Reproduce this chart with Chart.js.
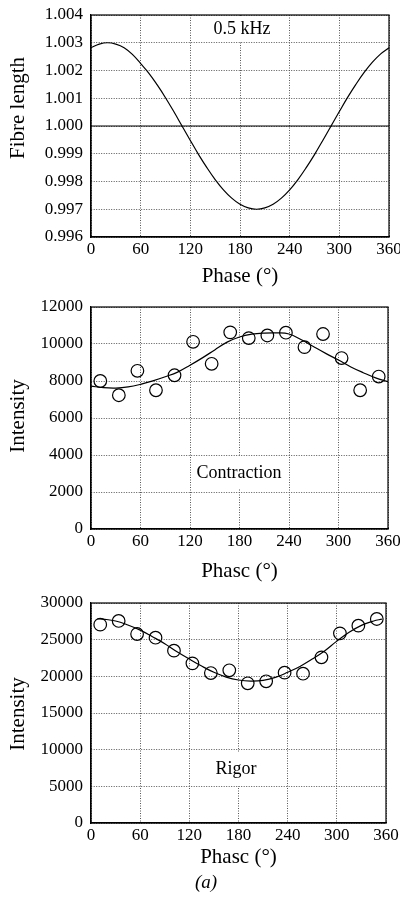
<!DOCTYPE html>
<html><head><meta charset="utf-8">
<script src="https://cdn.jsdelivr.net/npm/chart.js@4.4.1/dist/chart.umd.min.js"></script>
<style>
html,body{margin:0;padding:0;background:#fff;width:400px;height:909px;overflow:hidden}
.p{position:absolute;left:0;width:400px}
canvas{display:block}
#cap{position:absolute;left:0;top:871px;width:412px;text-align:center;font:italic 19px "Liberation Serif";color:#000}
</style></head><body>
<div class="p" style="top:0"><canvas id="c1" width="400" height="290"></canvas></div>
<div class="p" style="top:290px"><canvas id="c2" width="400" height="300"></canvas></div>
<div class="p" style="top:590px"><canvas id="c3" width="400" height="290"></canvas></div>
<div id="cap">(<span>a</span>)</div>
<script>
// ---------- data ----------
const phaseTicks = [0, 60, 120, 180, 240, 300, 360];
const lengthTicks = [0.996, 0.997, 0.998, 0.999, 1.000, 1.001, 1.002, 1.003, 1.004];
const contractionTicks = [0, 2000, 4000, 6000, 8000, 10000, 12000];
const rigorTicks = [0, 5000, 10000, 15000, 20000, 25000, 30000];

const fibrePhase = [0,10,20,30,40,50,60,70,80,90,100,110,120,130,140,150,160,170,180,190,200,210,220,230,240,250,260,270,280,290,300,310,320,330,340,350,360];
const fibreLength = [1.00282,1.00295,1.00300,1.00295,1.00282,1.00258,1.00225,1.00190,1.00148,1.00102,1.00052,1.00000,0.99948,0.99897,0.99850,0.99807,0.99770,0.99740,0.99718,0.99705,0.99700,0.99705,0.99718,0.99740,0.99770,0.99807,0.99850,0.99897,0.99948,1.00000,1.00052,1.00103,1.00150,1.00193,1.00230,1.00260,1.00282];
const referenceLength = [1.000, 1.000];
const referencePhase = [0, 360];

const dataPhase = [11.25,33.75,56.25,78.75,101.25,123.75,146.25,168.75,191.25,213.75,236.25,258.75,281.25,303.75,326.25,348.75];
const contractionData = [8000,7230,8550,7500,8310,10120,8930,10630,10320,10460,10610,9830,10540,9240,7500,8240];
const rigorData = [27050,27550,25770,25270,23500,21770,20450,20820,19050,19320,20500,20360,22590,25860,26910,27820];

const contractionFitPhase = [0,15,30,45,60,75,90,105,120,135,150,165,180,195,210,225,240,255,270,285,300,315,330,345,360];
const contractionFit = [7720,7640,7620,7680,7820,8010,8230,8480,8850,9250,9680,10100,10380,10530,10590,10600,10540,10230,9850,9480,9130,8760,8450,8170,7960];

const rigorFitPhase = [8,15,30,45,60,75,90,105,120,135,150,165,180,195,210,225,240,255,270,285,300,315,330,345,355];
const rigorFit = [27850,27800,27550,27000,26300,25400,24450,23350,22350,21400,20550,19900,19500,19350,19450,19850,20550,21350,22350,23450,24800,26000,26950,27550,27800];

// ---------- helpers ----------
const F = '"Liberation Serif", "Times New Roman", serif';
const pts = (xs, ys) => xs.map((x, i) => ({x, y: ys[i]}));

const framePlugin = {
  id: 'frame',
  beforeDatasetsDraw(chart, args, opts) {
    const ctx = chart.ctx, a = chart.chartArea;
    ctx.save();
    (opts.boxes || []).forEach(b => {
      ctx.font = b.font;
      ctx.fillStyle = '#fff';
      ctx.fillRect(a.left + b.cx - b.w / 2, a.top + b.cy - b.h / 2, b.w, b.h);
      ctx.fillStyle = '#000';
      ctx.textAlign = 'center';
      ctx.textBaseline = 'middle';
      ctx.fillText(b.text, a.left + b.cx, a.top + b.cy);
    });
    ctx.strokeStyle = '#000';
    ctx.lineWidth = 1.2;
    ctx.strokeRect(a.left, a.top, a.right - a.left, a.bottom - a.top);
    ctx.restore();
  },
  afterDraw(chart, args, opts) {
    const ctx = chart.ctx;
    (opts.titles || []).forEach(t => {
      ctx.save();
      ctx.font = t.font;
      ctx.fillStyle = '#000';
      ctx.textAlign = 'center';
      ctx.textBaseline = 'middle';
      ctx.translate(t.x, t.y);
      if (t.rot) ctx.rotate(t.rot);
      ctx.fillText(t.text, 0, 0);
      ctx.restore();
    });
  }
};

function xAxis(h, label, pb) {
  return {
    type: 'linear', min: 0, max: 360,
    afterBuildTicks: s => { s.ticks = phaseTicks.map(v => ({value: v})); },
    afterFit: s => { s.height = h; s.paddingLeft = 0; s.paddingRight = 0; },
    ticks: {color: '#000', font: {family: F, size: 17}, padding: 2, maxRotation: 0, minRotation: 0, autoSkip: false},
    grid: {color: '#555', lineWidth: 1, drawTicks: false},
    border: {display: true, color: '#000', width: 1.2, dash: [1, 1.5]},
    title: {display: true, text: label, color: '#000', font: {family: F, size: 21}, padding: {top: 0, bottom: pb}}
  };
}
function yAxis(min, max, tickArr, fmt) {
  return {
    type: 'linear', min, max,
    afterBuildTicks: s => { s.ticks = tickArr.map(v => ({value: v})); },
    afterFit: s => { s.width = 91; s.paddingTop = 0; s.paddingBottom = 0; },
    ticks: {color: '#000', font: {family: F, size: 17}, padding: 8, callback: fmt},
    grid: {color: '#555', lineWidth: 1, drawTicks: false},
    border: {display: true, color: '#000', width: 1.2, dash: [1, 1.5]},
    title: {display: false}
  };
}
const lineDs = (data) => ({type: 'line', data, borderColor: '#000', borderWidth: 1.2, pointRadius: 0, tension: 0.4, fill: false, showLine: true});
const ptDs = (data) => ({type: 'scatter', data, borderColor: '#000', backgroundColor: 'rgba(0,0,0,0)', borderWidth: 1.2, pointRadius: 6.3, pointHoverRadius: 6.3, showLine: false});

const common = {
  responsive: false, animation: false, devicePixelRatio: 1,
  plugins: {legend: {display: false}, tooltip: {enabled: false}},
  events: []
};

// ---------- panel 1 ----------
new Chart(document.getElementById('c1'), {
  type: 'scatter',
  data: {datasets: [
    lineDs(pts(referencePhase, referenceLength)),
    lineDs(pts(fibrePhase, fibreLength))
  ]},
  options: Object.assign({}, common, {
    layout: {padding: {left: 0, right: 11, top: 15, bottom: 0}},
    scales: {
      x: xAxis(53, 'Phase (°)', 1),
      y: yAxis(0.996, 1.004, lengthTicks, v => v.toFixed(3))
    },
    plugins: Object.assign({}, common.plugins, {
      frame: {
        boxes: [{text: '0.5 kHz', font: '18px ' + F, cx: 151, cy: 14, w: 76, h: 24}],
        titles: [{text: 'Fibre length', font: '21px ' + F, x: 18.5, y: 108, rot: -Math.PI / 2}]
      }
    })
  }),
  plugins: [framePlugin]
});

// ---------- panel 2 ----------
new Chart(document.getElementById('c2'), {
  type: 'scatter',
  data: {datasets: [
    lineDs(pts(contractionFitPhase, contractionFit)),
    ptDs(pts(dataPhase, contractionData))
  ]},
  options: Object.assign({}, common, {
    layout: {padding: {left: 0, right: 12, top: 17, bottom: 0}},
    scales: {
      x: xAxis(61, 'Phasc (°)', 6),
      y: yAxis(0, 12000, contractionTicks, v => String(v))
    },
    plugins: Object.assign({}, common.plugins, {
      frame: {
        boxes: [{text: 'Contraction', font: '18px ' + F, cx: 148, cy: 166, w: 96, h: 32}],
        titles: [{text: 'Intensity', font: '21px ' + F, x: 18.5, y: 126, rot: -Math.PI / 2}]
      }
    })
  }),
  plugins: [framePlugin]
});

// ---------- panel 3 ----------
new Chart(document.getElementById('c3'), {
  type: 'scatter',
  data: {datasets: [
    lineDs(pts(rigorFitPhase, rigorFit)),
    ptDs(pts(dataPhase, rigorData))
  ]},
  options: Object.assign({}, common, {
    layout: {padding: {left: 0, right: 14, top: 13, bottom: 0}},
    scales: {
      x: xAxis(57, 'Phasc (°)', 10),
      y: yAxis(0, 30000, rigorTicks, v => String(v))
    },
    plugins: Object.assign({}, common.plugins, {
      frame: {
        boxes: [{text: 'Rigor', font: '18px ' + F, cx: 145, cy: 166, w: 54, h: 34}],
        titles: [{text: 'Intensity', font: '21px ' + F, x: 18.5, y: 124, rot: -Math.PI / 2}]
      }
    })
  }),
  plugins: [framePlugin]
});
</script>
</body></html>
